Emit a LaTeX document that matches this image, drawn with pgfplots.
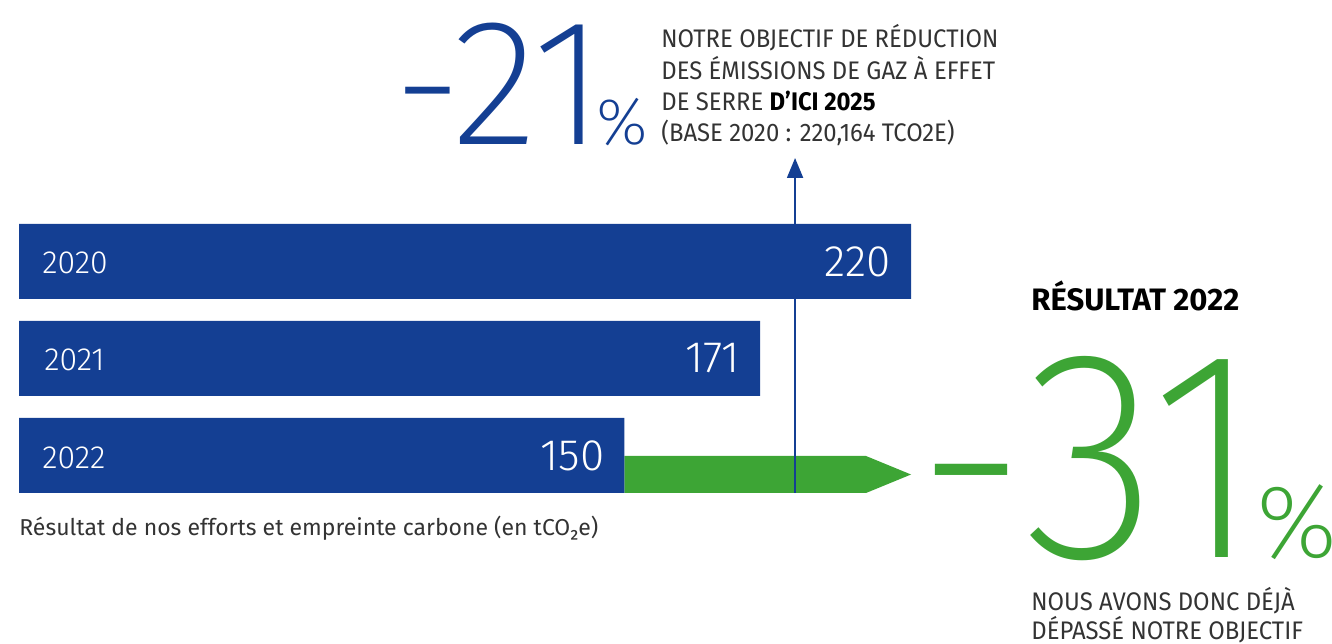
\documentclass[border=0pt]{standalone}
\usepackage{pgfplots}
\pgfplotsset{compat=1.18}
\usetikzlibrary{arrows.meta}
\usepackage{fontspec}
\setmainfont{Fira Sans}
\newfontfamily\lightf{Fira Sans ExtraLight}
\newfontfamily\bookf{Fira Sans Light}
\newfontfamily\condf{Fira Sans}[FakeStretch=0.94]
\definecolor{cblue}{HTML}{143F93}
\definecolor{cgreen}{HTML}{3DA535}
\definecolor{ctext}{HTML}{333333}

\begin{document}
\begin{tikzpicture}[x=0.5pt,y=0.5pt]
\useasboundingbox (0,0) rectangle (1332,643);
\begin{axis}[
  at={(0,0)}, anchor=south west,
  width=666pt, height=321.5pt, scale only axis,
  hide axis, clip=false,
  xmin=-4.686, xmax=323.83,
  ymin=0, ymax=643,
]
% green reduction arrow
\addplot[fill=cgreen, draw=none] coordinates {(149.3,150) (208.9,150) (220,168.5) (208.9,187) (149.3,187)} -- cycle;
% target arrow
\addplot[cblue, line width=1pt, -{Triangle[width=8pt,length=10pt]}] coordinates {(191.4,150) (191.4,485)};
% bars (2021 bar drawn as in the original, labelled 171)
\addplot[xbar, bar width=75, fill=cblue, draw=none,
  point meta=explicit symbolic,
  nodes near coords,
  nodes near coords style={anchor=east, xshift=-6.5pt, text=white, font=\bookf\fontsize{22}{22}\selectfont}]
  coordinates {(220,381.5)[220] (182.8,284.5)[171] (149.3,187.5)[150]};
\end{axis}
% year labels
\node[anchor=base west, inner sep=0, text=white, font=\bookf\fontsize{16}{16}\selectfont] at (42,643-274) {2020};
\node[anchor=base west, inner sep=0, text=white, font=\bookf\fontsize{16}{16}\selectfont] at (44,643-371) {2021};
\node[anchor=base west, inner sep=0, text=white, font=\bookf\fontsize{16}{16}\selectfont] at (42,643-468) {2022};
% -21 %
\node[anchor=base east, inner sep=0, text=cblue, font=\lightf\fontsize{86}{86}\selectfont] at (463,643-145) {-};
\node[anchor=base west, inner sep=0, text=cblue, font=\lightf\fontsize{90}{90}\selectfont] at (452,643-145) {21};
\node[anchor=base west, inner sep=0, text=cblue, font=\lightf\fontsize{33}{33}\selectfont] at (596,643-145) {\%};
% target text
\node[anchor=base west, inner sep=0, text=ctext, font=\condf\fontsize{12.7}{12.7}\selectfont] at (661,643-48) {NOTRE OBJECTIF DE RÉDUCTION};
\node[anchor=base west, inner sep=0, text=ctext, font=\condf\fontsize{12.7}{12.7}\selectfont] at (661,643-80) {DES ÉMISSIONS DE GAZ À EFFET};
\node[anchor=base west, inner sep=0, text=ctext, font=\condf\fontsize{12.7}{12.7}\selectfont] at (661,643-111) {DE SERRE \textcolor{black}{\bfseries D’ICI 2025}};
\node[anchor=base west, inner sep=0, text=ctext, font=\condf\fontsize{12.7}{12.7}\selectfont] at (661,643-142) {(BASE 2020 : 220,164 TCO2E)};
% caption
\node[anchor=base west, inner sep=0, text=ctext, font=\fontsize{11.5}{11.5}\selectfont] at (19,643-535) {Résultat de nos efforts et empreinte carbone (en tCO₂e)};
% result
\node[anchor=base west, inner sep=0, text=black, font=\bfseries\fontsize{15.5}{15.5}\selectfont] at (1031,643-311) {RÉSULTAT 2022};
\node[anchor=base east, inner sep=0, text=cgreen, font=\lightf\fontsize{140}{140}\selectfont] at (1028,643-557) {-};
\node[anchor=base west, inner sep=0, text=cgreen, font=\lightf\fontsize{149}{149}\selectfont] at (1024,643-557) {\addfontfeature{FakeStretch=0.93}31};
\node[anchor=base west, inner sep=0, text=cgreen, font=\lightf\fontsize{52}{52}\selectfont] at (1256,643-557) {\%};
\node[anchor=base west, inner sep=0, text=ctext, font=\condf\fontsize{12.7}{12.7}\selectfont] at (1031,643-610) {NOUS AVONS DONC DÉJÀ};
\node[anchor=base west, inner sep=0, text=ctext, font=\condf\fontsize{12.7}{12.7}\selectfont] at (1031,643-639) {DÉPASSÉ NOTRE OBJECTIF};
\end{tikzpicture}
\end{document}
